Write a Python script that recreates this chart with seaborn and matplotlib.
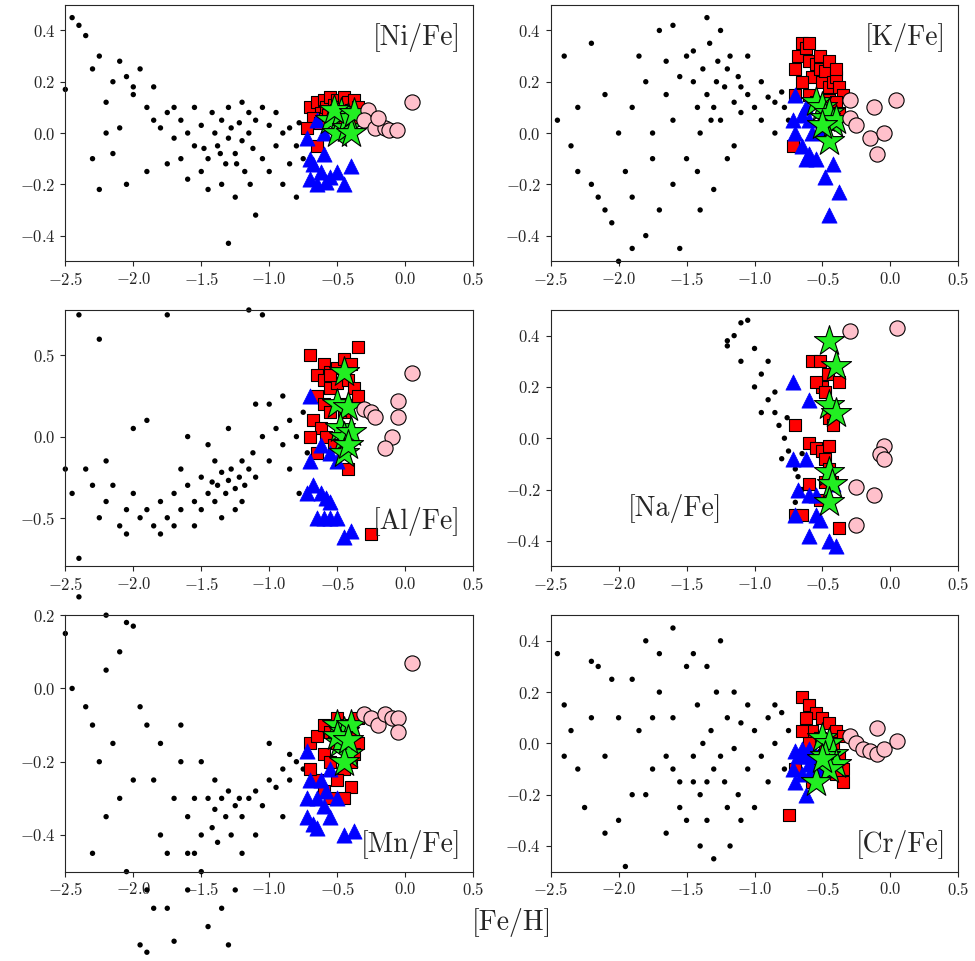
import numpy as np
import pandas as pd
import matplotlib
matplotlib.use("Agg")
import matplotlib.pyplot as plt
import seaborn as sns

# -----------------
# dados: (Fe/H, X/Fe)
# -----------------
ni_field = [(-2.45,0.45),(-2.4,0.42),(-2.35,0.38),(-2.5,0.17),(-2.3,0.25),(-2.25,0.3),(-2.2,0.12),(-2.15,0.2),(-2.1,0.28),(-2.05,0.22),(-2.0,0.15),(-1.95,0.25),(-1.9,0.1),(-1.85,0.05),(-2.25,-0.22),(-2.05,-0.2),(-2.2,0.0),(-2.1,0.02),(-1.8,0.02),(-1.75,0.08),(-1.7,-0.02),(-1.65,0.05),(-1.6,0.0),(-1.55,-0.05),(-1.5,0.03),(-1.45,-0.1),(-1.4,0.0),(-1.38,-0.05),(-1.35,0.05),(-1.32,-0.12),(-1.3,-0.02),(-1.28,0.02),(-1.25,-0.08),(-1.22,0.04),(-1.2,-0.03),(-1.18,-0.15),(-1.15,0.0),(-1.12,-0.06),(-1.1,0.05),(-1.05,-0.1),(-1.0,0.03),(-0.95,-0.05),(-0.9,0.0),(-0.85,0.02),(-0.8,-0.05),(-0.78,0.04),(-0.75,-0.1),(-0.72,0.0),(-1.3,-0.43),(-1.1,-0.32),(-1.45,-0.22),(-1.6,-0.18),(-1.75,-0.12),(-1.9,-0.15),(-1.55,0.1),(-1.42,0.08),(-1.3,0.1),(-1.15,0.08),(-1.0,-0.15),(-0.9,-0.2),(-0.8,-0.25),(-1.65,-0.1),(-1.5,-0.15),(-1.35,-0.2),(-1.25,-0.25),(-1.2,0.12),(-1.48,-0.06),(-1.36,-0.08),(-1.24,-0.12),(-1.14,-0.2),(-2.0,0.18),(-1.85,0.18),(-1.7,0.1),(-2.3,-0.1),(-2.15,-0.08),(-1.05,0.1),(-0.95,0.08),(-0.85,-0.12)]
ni_red = [(-0.7,0.1),(-0.65,0.12),(-0.62,0.08),(-0.6,0.13),(-0.58,0.1),(-0.55,0.14),(-0.52,0.11),(-0.5,0.13),(-0.48,0.1),(-0.45,0.14),(-0.42,0.12),(-0.4,0.09),(-0.38,0.13),(-0.35,0.1),(-0.68,0.06),(-0.63,0.04),(-0.57,0.07),(-0.5,0.05),(-0.45,0.07),(-0.65,-0.05),(-0.72,0.02),(-0.36,0.05)]
ni_blue = [(-0.72,-0.02),(-0.7,-0.1),(-0.65,0.05),(-0.62,-0.15),(-0.6,-0.08),(-0.7,-0.18),(-0.65,-0.2),(-0.58,-0.19),(-0.55,-0.17),(-0.5,-0.15),(-0.6,0.0),(-0.45,-0.2),(-0.4,-0.13),(-0.68,-0.12)]
ni_green = [(-0.55,0.05),(-0.5,0.0),(-0.47,0.08),(-0.43,0.02),(-0.42,0.06),(-0.4,0.0),(-0.52,0.09),(-0.38,0.08)]
ni_pink = [(-0.27,0.09),(-0.3,0.05),(-0.22,0.02),(-0.15,0.02),(-0.12,0.01),(-0.06,0.01),(0.05,0.12),(-0.2,0.06)]

k_field = [(-2.4,0.3),(-2.3,0.1),(-2.35,-0.05),(-2.2,-0.2),(-2.1,-0.3),(-2.05,-0.35),(-2.0,-0.5),(-1.95,-0.15),(-1.9,0.1),(-1.85,0.3),(-1.8,0.2),(-1.75,-0.1),(-1.7,0.4),(-1.65,0.15),(-1.6,-0.2),(-1.55,-0.45),(-1.5,0.3),(-1.45,0.2),(-1.42,0.1),(-1.4,0.0),(-1.38,0.25),(-1.35,0.15),(-1.33,0.35),(-1.3,0.1),(-1.28,0.2),(-1.25,0.05),(-1.22,0.18),(-1.2,-0.1),(-1.18,0.3),(-1.15,0.12),(-1.12,0.22),(-1.1,0.08),(-1.05,0.15),(-1.0,0.1),(-0.95,0.05),(-0.9,0.14),(-0.85,0.12),(-0.8,0.16),(-0.78,0.1),(-0.75,0.05),(-1.4,-0.3),(-1.3,-0.22),(-1.5,-0.1),(-1.6,0.05),(-1.7,-0.3),(-1.8,-0.4),(-1.9,-0.25),(-2.0,0.0),(-2.1,0.15),(-2.2,0.35),(-2.45,0.05),(-2.3,-0.15),(-1.25,0.4),(-1.35,0.45),(-1.15,-0.05),(-1.05,0.3),(-0.95,0.2),(-0.85,0.0),(-1.45,0.32),(-1.55,0.22),(-1.65,0.28),(-1.75,0.0),(-1.2,0.25),(-1.1,0.18),(-1.32,0.05),(-1.27,0.28),(-1.42,-0.15),(-1.9,-0.45),(-2.15,-0.25),(-1.6,0.42)]
k_red = [(-0.7,0.25),(-0.68,0.3),(-0.65,0.35),(-0.62,0.33),(-0.6,0.28),(-0.58,0.22),(-0.55,0.27),(-0.52,0.25),(-0.5,0.2),(-0.48,0.24),(-0.45,0.18),(-0.42,0.2),(-0.4,0.22),(-0.38,0.18),(-0.35,0.15),(-0.6,0.15),(-0.55,0.12),(-0.5,0.1),(-0.45,0.13),(-0.4,0.12),(-0.65,0.2),(-0.7,0.15),(-0.6,0.35),(-0.52,0.3),(-0.45,0.28),(-0.4,0.25),(-0.72,-0.05),(-0.38,0.08)]
k_blue = [(-0.7,0.15),(-0.72,0.05),(-0.7,0.0),(-0.65,0.07),(-0.62,0.1),(-0.6,0.05),(-0.65,-0.05),(-0.62,-0.1),(-0.6,-0.08),(-0.55,-0.1),(-0.5,0.02),(-0.48,-0.17),(-0.42,-0.12),(-0.38,-0.23),(-0.45,-0.32),(-0.58,0.0)]
k_green = [(-0.55,0.12),(-0.5,0.1),(-0.48,0.06),(-0.45,0.08),(-0.42,0.04),(-0.4,0.05),(-0.45,-0.03),(-0.5,0.03)]
k_pink = [(-0.3,0.13),(-0.12,0.1),(0.04,0.13),(-0.3,0.06),(-0.25,0.03),(-0.15,-0.02),(-0.05,0.0),(-0.1,-0.08)]

al_field = [(-2.5,-0.2),(-2.45,-0.35),(-2.4,-0.75),(-2.3,-0.3),(-2.25,-0.5),(-2.2,-0.4),(-2.15,-0.3),(-2.1,-0.55),(-2.05,-0.45),(-2.0,-0.35),(-1.95,-0.5),(-1.9,-0.45),(-1.85,-0.55),(-1.8,-0.4),(-1.75,-0.5),(-1.7,-0.35),(-1.65,-0.45),(-1.6,-0.3),(-1.55,-0.4),(-1.5,-0.25),(-1.45,-0.35),(-1.42,-0.28),(-1.4,-0.4),(-1.38,-0.3),(-1.35,-0.22),(-1.32,-0.35),(-1.3,-0.27),(-1.28,-0.2),(-1.25,-0.32),(-1.22,-0.25),(-1.2,-0.15),(-1.18,-0.3),(-1.15,-0.2),(-1.12,-0.1),(-1.1,-0.25),(-1.05,0.0),(-1.0,-0.15),(-0.95,0.05),(-0.9,-0.05),(-0.85,0.1),(-0.8,0.0),(-0.78,-0.35),(-0.75,0.15),(-0.72,-0.1),(-2.4,0.75),(-2.25,0.6),(-1.75,0.75),(-1.15,0.78),(-1.05,0.75),(-1.9,0.1),(-2.0,0.05),(-1.6,0.0),(-1.45,-0.05),(-1.3,0.05),(-1.1,0.2),(-2.05,-0.6),(-1.8,-0.6),(-1.55,-0.55),(-1.35,-0.5),(-1.65,-0.2),(-1.5,-0.45),(-1.25,-0.45),(-2.35,-0.2),(-2.2,-0.15),(-1.0,0.2),(-0.9,0.25),(-0.85,-0.2),(-1.2,-0.4),(-1.4,-0.15),(-1.7,-0.55)]
al_red = [(-0.7,0.5),(-0.6,0.45),(-0.55,0.4),(-0.5,0.42),(-0.45,0.48),(-0.4,0.45),(-0.35,0.55),(-0.65,0.38),(-0.6,0.35),(-0.55,0.3),(-0.5,0.33),(-0.42,0.35),(-0.38,0.3),(-0.35,0.25),(-0.65,0.25),(-0.6,0.2),(-0.55,0.15),(-0.48,0.2),(-0.45,0.15),(-0.68,0.1),(-0.62,0.05),(-0.58,0.0),(-0.52,-0.05),(-0.7,0.0),(-0.65,-0.1),(-0.42,-0.2),(-0.25,-0.6),(-0.55,0.38)]
al_blue = [(-0.7,0.25),(-0.62,-0.05),(-0.7,-0.15),(-0.55,-0.1),(-0.5,-0.15),(-0.72,-0.35),(-0.68,-0.3),(-0.62,-0.35),(-0.58,-0.38),(-0.55,-0.4),(-0.65,-0.5),(-0.6,-0.5),(-0.55,-0.5),(-0.5,-0.5),(-0.45,-0.62),(-0.4,-0.58)]
al_green = [(-0.45,0.4),(-0.5,0.2),(-0.42,0.18),(-0.48,0.05),(-0.45,0.0),(-0.4,0.03),(-0.45,-0.1),(-0.42,-0.05)]
al_pink = [(0.05,0.39),(-0.3,0.17),(-0.25,0.15),(-0.22,0.12),(-0.05,0.22),(-0.05,0.12),(-0.1,0.0),(-0.15,-0.07)]

na_field = [(-1.1,0.45),(-1.05,0.46),(-1.15,0.4),(-1.2,0.38),(-1.2,0.36),(-1.1,0.3),(-1.0,0.2),(-0.95,0.25),(-0.9,0.15),(-0.85,0.1),(-0.82,0.05),(-0.78,0.0),(-0.75,-0.05),(-0.8,-0.08),(-0.72,-0.1),(-0.7,-0.12),(-0.68,-0.15),(-0.65,-0.2),(-0.85,0.18),(-0.9,0.3),(-0.95,0.1),(-0.76,0.08),(-0.73,0.2),(-0.7,-0.25),(-0.65,-0.06),(-1.0,0.35)]
na_red = [(-0.58,0.3),(-0.52,0.3),(-0.46,0.25),(-0.38,0.22),(-0.5,0.2),(-0.55,0.22),(-0.48,0.18),(-0.45,0.08),(-0.42,0.05),(-0.7,0.05),(-0.6,-0.02),(-0.55,-0.04),(-0.5,-0.05),(-0.45,-0.03),(-0.48,-0.08),(-0.6,-0.18),(-0.48,-0.17),(-0.43,-0.17),(-0.52,-0.24),(-0.7,-0.3),(-0.65,-0.3),(-0.38,-0.35),(-0.43,0.12),(-0.45,-0.12)]
na_blue = [(-0.72,0.22),(-0.6,0.15),(-0.62,-0.08),(-0.72,-0.08),(-0.68,-0.2),(-0.6,-0.22),(-0.55,-0.22),(-0.7,-0.3),(-0.55,-0.3),(-0.52,-0.32),(-0.6,-0.38),(-0.45,-0.4),(-0.4,-0.42),(-0.42,-0.18)]
na_green = [(-0.45,0.38),(-0.4,0.28),(-0.45,0.13),(-0.4,0.1),(-0.45,-0.13),(-0.43,-0.18),(-0.45,-0.25)]
na_pink = [(-0.3,0.42),(0.05,0.43),(-0.05,-0.03),(-0.08,-0.06),(-0.05,-0.08),(-0.25,-0.19),(-0.12,-0.22),(-0.25,-0.34)]

mn_field = [(-2.5,0.15),(-2.45,0.0),(-2.4,0.25),(-2.35,-0.05),(-2.3,-0.1),(-2.25,-0.2),(-2.2,0.05),(-2.15,-0.15),(-2.1,0.1),(-2.05,0.18),(-2.0,0.17),(-1.95,-0.05),(-1.9,-0.1),(-1.85,-0.25),(-1.8,-0.4),(-1.75,-0.45),(-1.7,-0.3),(-1.65,-0.2),(-1.6,-0.35),(-1.55,-0.3),(-1.5,-0.4),(-1.45,-0.3),(-1.42,-0.38),(-1.4,-0.33),(-1.38,-0.42),(-1.35,-0.3),(-1.32,-0.35),(-1.3,-0.28),(-1.28,-0.4),(-1.25,-0.32),(-1.22,-0.3),(-1.2,-0.35),(-1.15,-0.3),(-1.1,-0.28),(-1.05,-0.32),(-1.0,-0.25),(-0.95,-0.27),(-0.9,-0.22),(-0.85,-0.25),(-0.8,-0.2),(-0.75,-0.22),(-1.9,-0.55),(-1.85,-0.6),(-1.95,-0.7),(-1.9,-0.72),(-1.75,-0.6),(-1.7,-0.69),(-1.6,-0.55),(-1.5,-0.5),(-1.45,-0.65),(-1.35,-0.6),(-1.3,-0.7),(-1.25,-0.55),(-2.05,-0.5),(-2.1,-0.3),(-2.2,-0.35),(-2.3,-0.45),(-1.6,-0.45),(-1.5,-0.2),(-1.4,-0.25),(-1.2,-0.45),(-1.1,-0.4),(-1.0,-0.15),(-0.9,-0.35),(-0.85,-0.18),(-1.65,-0.1),(-1.8,-0.15),(-1.55,-0.45),(-2.0,-0.25),(-2.2,0.2)]
mn_red = [(-0.7,-0.15),(-0.65,-0.13),(-0.6,-0.1),(-0.55,-0.12),(-0.5,-0.08),(-0.45,-0.1),(-0.4,-0.12),(-0.35,-0.15),(-0.6,-0.18),(-0.55,-0.2),(-0.5,-0.15),(-0.45,-0.22),(-0.4,-0.2),(-0.65,-0.25),(-0.6,-0.28),(-0.55,-0.3),(-0.5,-0.25),(-0.4,-0.27),(-0.45,-0.3),(-0.38,-0.18),(-0.7,-0.22),(-0.35,-0.08)]
mn_blue = [(-0.72,-0.17),(-0.7,-0.25),(-0.72,-0.3),(-0.65,-0.3),(-0.62,-0.25),(-0.6,-0.32),(-0.55,-0.35),(-0.58,-0.28),(-0.72,-0.35),(-0.68,-0.37),(-0.65,-0.38),(-0.55,-0.22),(-0.45,-0.4),(-0.38,-0.39),(-0.5,-0.3)]
mn_green = [(-0.5,-0.1),(-0.45,-0.12),(-0.4,-0.1),(-0.48,-0.15),(-0.42,-0.18),(-0.45,-0.2),(-0.5,-0.13),(-0.42,-0.14)]
mn_pink = [(-0.3,-0.07),(-0.25,-0.08),(-0.2,-0.1),(-0.15,-0.07),(-0.1,-0.08),(-0.05,-0.08),(-0.05,-0.12),(0.05,0.07)]

cr_field = [(-2.45,0.35),(-2.4,0.15),(-2.35,0.05),(-2.3,-0.1),(-2.25,-0.25),(-2.2,0.1),(-2.15,0.3),(-2.1,-0.05),(-2.05,0.25),(-2.0,-0.3),(-1.95,-0.48),(-1.9,-0.2),(-1.85,0.05),(-1.8,0.4),(-1.75,-0.1),(-1.7,0.2),(-1.65,-0.35),(-1.6,0.1),(-1.55,-0.15),(-1.5,0.3),(-1.45,-0.05),(-1.42,0.15),(-1.4,-0.2),(-1.38,0.0),(-1.35,-0.3),(-1.32,0.05),(-1.3,-0.1),(-1.28,0.2),(-1.25,-0.05),(-1.22,-0.15),(-1.2,0.1),(-1.18,-0.4),(-1.15,-0.02),(-1.12,-0.2),(-1.1,0.08),(-1.05,-0.1),(-1.0,0.05),(-0.95,-0.05),(-0.9,0.1),(-0.85,0.0),(-0.8,0.12),(-0.78,-0.1),(-0.75,0.05),(-1.3,-0.45),(-1.5,-0.3),(-1.7,0.35),(-1.9,0.25),(-2.0,0.1),(-1.6,-0.1),(-1.45,0.35),(-1.35,0.3),(-1.25,0.4),(-1.1,-0.3),(-1.0,-0.25),(-0.9,-0.15),(-1.4,-0.4),(-1.6,0.45),(-2.1,-0.35),(-1.8,-0.2),(-1.55,-0.25),(-1.2,-0.25),(-0.85,0.15),(-1.15,0.2),(-1.45,-0.15),(-1.65,-0.05),(-2.2,0.32),(-2.4,-0.05),(-1.75,0.1),(-1.05,0.15),(-1.35,-0.15)]
cr_red = [(-0.65,0.18),(-0.6,0.15),(-0.55,0.12),(-0.5,0.1),(-0.45,0.08),(-0.4,0.05),(-0.35,0.03),(-0.62,0.1),(-0.58,0.05),(-0.52,0.02),(-0.48,0.0),(-0.42,-0.02),(-0.38,-0.05),(-0.35,-0.1),(-0.6,0.0),(-0.55,-0.05),(-0.5,-0.08),(-0.45,-0.1),(-0.4,-0.12),(-0.35,-0.15),(-0.65,0.05),(-0.75,-0.28),(-0.7,-0.1),(-0.58,-0.15)]
cr_blue = [(-0.7,-0.03),(-0.68,-0.05),(-0.65,-0.02),(-0.62,-0.05),(-0.6,-0.08),(-0.58,-0.1),(-0.55,-0.05),(-0.72,-0.1),(-0.7,-0.15),(-0.65,-0.12),(-0.62,-0.2),(-0.5,-0.1),(-0.55,-0.12),(-0.6,-0.02)]
cr_green = [(-0.5,0.02),(-0.45,0.0),(-0.42,-0.04),(-0.48,-0.05),(-0.4,-0.08),(-0.45,-0.1),(-0.55,-0.15),(-0.5,-0.06)]
cr_pink = [(-0.3,0.03),(-0.25,0.0),(-0.2,-0.02),(-0.15,-0.03),(-0.1,-0.04),(-0.05,-0.02),(0.05,0.01),(-0.1,0.06)]

paineis = [
    ("[Ni/Fe]", (-0.5, 0.5), [-0.4, -0.2, 0.0, 0.2, 0.4], (0.97, 0.93, "right", "top"), ni_field, ni_red, ni_blue, ni_green, ni_pink),
    ("[K/Fe]", (-0.5, 0.5), [-0.4, -0.2, 0.0, 0.2, 0.4], (0.97, 0.93, "right", "top"), k_field, k_red, k_blue, k_green, k_pink),
    ("[Al/Fe]", (-0.8, 0.78), [-0.5, 0.0, 0.5], (0.97, 0.12, "right", "bottom"), al_field, al_red, al_blue, al_green, al_pink),
    ("[Na/Fe]", (-0.5, 0.5), [-0.4, -0.2, 0.0, 0.2, 0.4], (0.19, 0.17, "left", "bottom"), na_field, na_red, na_blue, na_green, na_pink),
    ("[Mn/Fe]", (-0.5, 0.2), [-0.4, -0.2, 0.0, 0.2], (0.97, 0.05, "right", "bottom"), mn_field, mn_red, mn_blue, mn_green, mn_pink),
    ("[Cr/Fe]", (-0.5, 0.5), [-0.4, -0.2, 0.0, 0.2, 0.4], (0.97, 0.05, "right", "bottom"), cr_field, cr_red, cr_blue, cr_green, cr_pink),
]

sns.set_style("ticks")
plt.rcParams["font.family"] = ["cmr10"]
plt.rcParams["mathtext.fontset"] = "cm"
plt.rcParams["axes.formatter.use_mathtext"] = True
plt.rcParams["axes.unicode_minus"] = True

estilos = [
    dict(color="red", marker="s", s=75, edgecolor="black", linewidth=0.8),
    dict(color="blue", marker="^", s=120, edgecolor="blue", linewidth=0.5),
    dict(color="#22ee22", marker="*", s=520, edgecolor="black", linewidth=0.8),
    dict(color="pink", marker="o", s=120, edgecolor="black", linewidth=0.8),
]

fig, axes = plt.subplots(3, 2, figsize=(9.75, 9.61), dpi=100)
fig.subplots_adjust(left=0.067, right=0.983, top=0.995, bottom=0.093, hspace=0.19, wspace=0.19)

for ax, (rotulo, ylim, yticks, pos, campo, *grupos) in zip(axes.flat, paineis):
    df = pd.DataFrame(campo, columns=["feh", "xfe"])
    sns.scatterplot(data=df, x="feh", y="xfe", ax=ax, color="black", s=15,
                    edgecolor="none", clip_on=False, zorder=2)
    for g, est in zip(grupos, estilos):
        dg = pd.DataFrame(g, columns=["feh", "xfe"])
        sns.scatterplot(data=dg, x="feh", y="xfe", ax=ax, zorder=3, **est)
    ax.set_xlim(-2.5, 0.5)
    ax.set_ylim(*ylim)
    ax.set_xticks([-2.5, -2.0, -1.5, -1.0, -0.5, 0.0, 0.5])
    ax.set_yticks(yticks)
    ax.set_xlabel("")
    ax.set_ylabel("")
    ax.tick_params(labelsize=12)
    ax.text(pos[0], pos[1], rotulo, transform=ax.transAxes, ha=pos[2], va=pos[3], fontsize=20)

fig.text(0.525, 0.04, "[Fe/H]", ha="center", va="center", fontsize=20)
fig.savefig("out.png", dpi=100)
